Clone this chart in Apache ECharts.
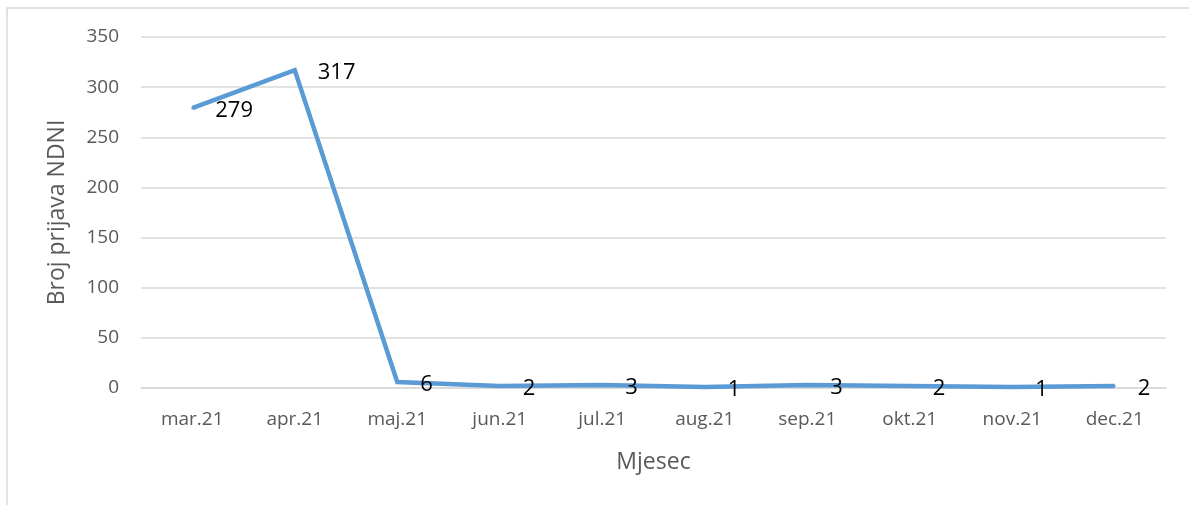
<!DOCTYPE html>
<html>
<head>
<meta charset="utf-8">
<script src="https://cdn.jsdelivr.net/npm/echarts@6/dist/echarts.min.js"></script>
<style>
  html, body { margin: 0; padding: 0; background: #fff; }
  #chart { width: 1189px; height: 505px; }
</style>
</head>
<body>
<div id="chart"></div>
<script>
// Monthly NDNI reports, 2021
const months = ['mar.21', 'apr.21', 'maj.21', 'jun.21', 'jul.21', 'aug.21', 'sep.21', 'okt.21', 'nov.21', 'dec.21'];
const reports = [279, 317, 6, 2, 3, 1, 3, 2, 1, 2];
const yTicks = { min: 0, max: 350, interval: 50 };

const font = 'Open Sans, Liberation Sans, sans-serif';
const chart = echarts.init(document.getElementById('chart'), null, { renderer: 'canvas' });

chart.setOption({
  backgroundColor: '#ffffff',
  animation: false,
  graphic: [{
    type: 'rect',
    shape: { x: 7, y: 8, width: 1200, height: 520 },
    style: { fill: 'none', stroke: '#d9d9d9', lineWidth: 1.5 },
    silent: true
  }],
  grid: { left: 141, right: 23, top: 37, bottom: 117 },
  xAxis: {
    type: 'category',
    data: months,
    boundaryGap: true,
    name: 'Mjesec',
    nameLocation: 'middle',
    nameGap: 63,
    nameTextStyle: { color: '#595959', fontSize: 23, fontFamily: font },
    axisLine: { show: true, lineStyle: { color: '#d9d9d9', width: 1.5 } },
    axisTick: { show: false },
    axisLabel: { color: '#595959', fontSize: 19, fontFamily: font, margin: 22 }
  },
  yAxis: {
    type: 'value',
    min: yTicks.min,
    max: yTicks.max,
    interval: yTicks.interval,
    name: 'Broj prijava NDNI',
    nameLocation: 'middle',
    nameGap: 72,
    nameTextStyle: { color: '#595959', fontSize: 23, fontFamily: font },
    axisLine: { show: false },
    axisTick: { show: false },
    axisLabel: { color: '#595959', fontSize: 19, fontFamily: font, margin: 22 },
    splitLine: { lineStyle: { color: '#d9d9d9', width: 1.5 } }
  },
  series: [{
    type: 'line',
    data: reports,
    symbol: 'circle',
    symbolSize: 2,
    showSymbol: true,
    lineStyle: { color: '#5b9bd5', width: 4.5, join: 'miter' },
    itemStyle: { color: '#5b9bd5' },
    label: {
      show: true,
      position: 'right',
      distance: 22,
      color: '#000000',
      fontSize: 22,
      fontFamily: font,
      offset: [0, 3]
    },
    z: 3
  }]
});
</script>
</body>
</html>
